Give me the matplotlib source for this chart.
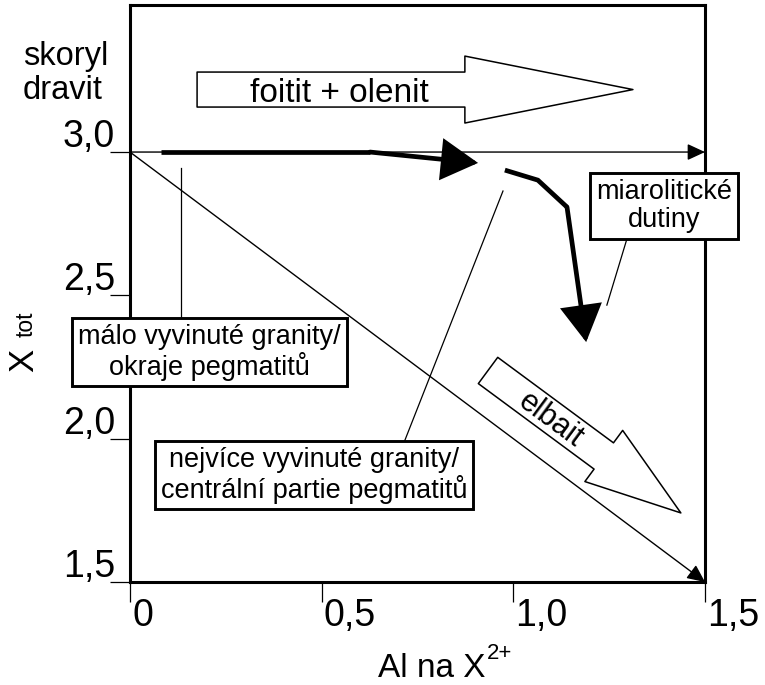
import matplotlib
matplotlib.use('Agg')
import matplotlib.pyplot as plt
from matplotlib.patches import FancyArrowPatch, ArrowStyle

plt.rcParams['font.family'] = ['Liberation Sans', 'DejaVu Sans']

# ---- data ----
x_ticks = [0.0, 0.5, 1.0, 1.5]
x_tick_labels = ['0', '0,5', '1,0', '1,5']
y_ticks = [1.5, 2.0, 2.5, 3.0]
y_tick_labels = ['1,5', '2,0', '2,5', '3,0']

# thin reference vectors (start -> end)
ref_h_x = [0.0, 1.5]
ref_h_y = [3.0, 3.0]
ref_d_x = [0.0, 1.5]
ref_d_y = [3.0, 1.5]

# thick evolution trends
trend1_x = [0.081, 0.626, 0.908]
trend1_y = [3.0, 3.0, 2.962]
trend2_x = [0.978, 1.064, 1.140, 1.190]
trend2_y = [2.937, 2.902, 2.808, 2.337]

# broad substitution arrows (start -> tip)
foitit_x = [0.175, 1.312]
foitit_y = [3.218, 3.218]
elbait_x = [0.934, 1.437]
elbait_y = [2.238, 1.741]

# ---- figure ----
W, H = 765, 685
fig = plt.figure(figsize=(W / 100, H / 100), dpi=100)
ax = fig.add_axes([130 / W, 1 - 582 / H, (705 - 130) / W, (582 - 5) / H])
ax.set_xlim(0, 1.5)
ax.set_ylim(1.5, 3.513)
for s in ax.spines.values():
    s.set_linewidth(2.2)
    s.set_color('black')
ax.set_xticks(x_ticks)
ax.set_yticks(y_ticks)
ax.tick_params(direction='out', length=14.4, width=0.9, color='black',
               labelbottom=False, labelleft=False)

tick_fs = 27
for v, lab in zip(x_ticks, x_tick_labels):
    ax.annotate(lab, xy=(v, 0), xycoords=('data', 'axes fraction'),
                xytext=(1.5, -31.7), textcoords='offset points',
                ha='left', va='baseline', fontsize=tick_fs, annotation_clip=False)
for v, lab in zip(y_ticks, y_tick_labels):
    ax.annotate(lab, xy=(0, v), xycoords=('axes fraction', 'data'),
                xytext=(-10.8, 3.6), textcoords='offset points',
                ha='right', va='baseline', fontsize=tick_fs, annotation_clip=False)

# thin reference arrows
thin = dict(arrowstyle='-|>,head_length=10.8,head_width=5', mutation_scale=1,
            lw=1.0, color='black', shrinkA=0, shrinkB=0)
ax.annotate('', xy=(ref_h_x[1], ref_h_y[1]), xytext=(ref_h_x[0], ref_h_y[0]),
            arrowprops=thin, annotation_clip=False)
ax.annotate('', xy=(ref_d_x[1], ref_d_y[1]), xytext=(ref_d_x[0], ref_d_y[0]),
            arrowprops=thin, annotation_clip=False)

# thick trends
thick_lw = 3.4
for tx, ty in [(trend1_x, trend1_y), (trend2_x, trend2_y)]:
    ax.plot(tx[:-1], ty[:-1], color='black', lw=thick_lw,
            solid_capstyle='butt', solid_joinstyle='miter')
    ax.annotate('', xy=(tx[-1], ty[-1]), xytext=(tx[-2], ty[-2]),
                arrowprops=dict(arrowstyle='-|>,head_length=21.6,head_width=12.3',
                                mutation_scale=1, lw=thick_lw, color='black',
                                shrinkA=0, shrinkB=0, joinstyle='miter'))

# broad hollow arrows
foit = FancyArrowPatch((foitit_x[0], foitit_y[0]), (foitit_x[1], foitit_y[1]),
                       arrowstyle=ArrowStyle.Simple(head_length=121, head_width=48.2,
                                                    tail_width=25.2),
                       mutation_scale=1, fc='white', ec='black', lw=1.1,
                       shrinkA=0, shrinkB=0, zorder=3)
ax.add_patch(foit)
ax.text(0.545, foitit_y[0], 'foitit + olenit', fontsize=24, ha='center',
        va='center_baseline', zorder=4)

elb = FancyArrowPatch((elbait_x[0], elbait_y[0]), (elbait_x[1], elbait_y[1]),
                      arrowstyle=ArrowStyle.Simple(head_length=69, head_width=45.8,
                                                   tail_width=23.5),
                      mutation_scale=1, fc='white', ec='black', lw=1.1,
                      shrinkA=0, shrinkB=0, zorder=3)
ax.add_patch(elb)
ax.text(1.084, 2.042, 'elbait', fontsize=22, ha='center', va='baseline',
        rotation=-36.5, rotation_mode='anchor', zorder=4)

# leader lines
ax.plot([0.133, 0.133], [2.944, 2.35], color='black', lw=0.9, zorder=2)
ax.plot([1.297, 1.244], [2.70, 2.466], color='black', lw=0.9, zorder=2)
ax.plot([0.704, 0.973], [1.95, 2.864], color='black', lw=0.9, zorder=2)

# boxed labels
box = dict(boxstyle='square,pad=0.22', fc='white', ec='black', lw=2.1)
box_fs = 19.5
ax.text(0.207, 2.302, 'málo vyvinuté granity/\nokraje pegmatitů', fontsize=box_fs,
        ha='center', va='center', multialignment='center', bbox=box,
        zorder=6, clip_on=False, linespacing=1.08)
ax.text(1.393, 2.812, 'miarolitické\ndutiny', fontsize=box_fs,
        ha='center', va='center', multialignment='center', bbox=box,
        zorder=6, clip_on=False, linespacing=1.12)
ax.text(0.480, 1.873, 'nejvíce vyvinuté granity/\ncentrální partie pegmatitů',
        fontsize=box_fs, ha='center', va='center', multialignment='center',
        bbox=box, zorder=6, clip_on=False, linespacing=1.08)

# outer labels
fig.text(23 / W, 1 - 65 / H, 'skoryl', fontsize=23.5, ha='left', va='baseline')
fig.text(23 / W, 1 - 99 / H, 'dravit', fontsize=23.5, ha='left', va='baseline')
fig.text(378 / W, 1 - 677 / H, 'Al na X', fontsize=24, ha='left', va='baseline')
fig.text(487 / W, 1 - 659 / H, '2+', fontsize=16, ha='left', va='baseline')
fig.text(33 / W, 1 - 372 / H, 'X', fontsize=25, rotation=90, rotation_mode='anchor',
         ha='left', va='baseline')
fig.text(33 / W, 1 - 337 / H, 'tot', fontsize=16.5, rotation=90, rotation_mode='anchor',
         ha='left', va='baseline')

fig.savefig('out.png', dpi=100)
